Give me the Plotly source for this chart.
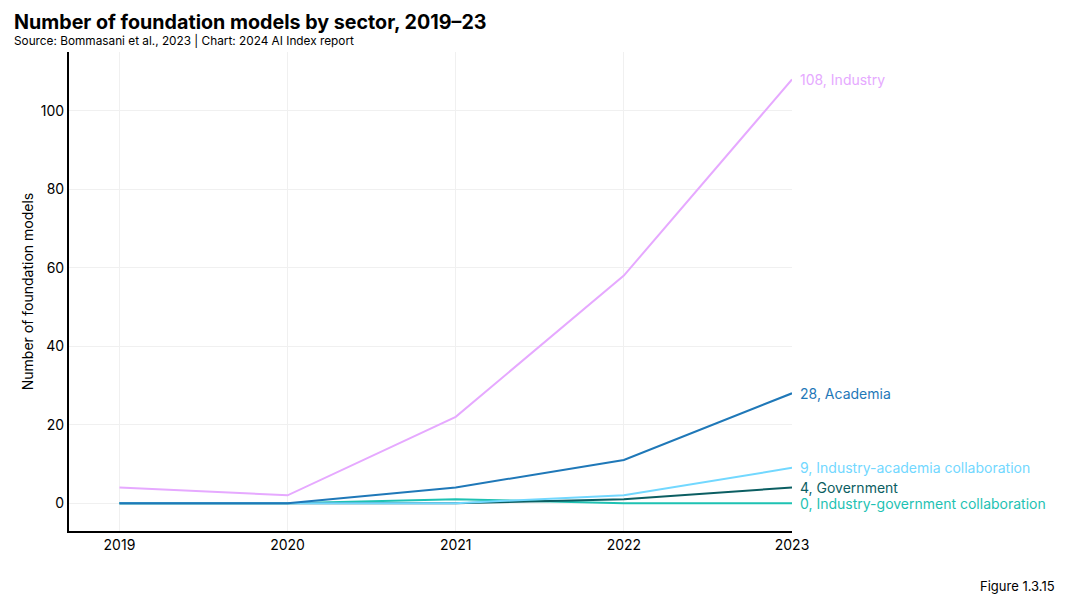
import plotly.graph_objects as go

years = [2019, 2020, 2021, 2022, 2023]
industry = [4, 2, 22, 58, 108]
academia = [0, 0, 4, 11, 28]
ind_acad = [0, 0, 0, 2, 9]
government = [0, 0, 0, 1, 4]
ind_gov = [0, 0, 1, 0, 0]

series = [
    ("Industry-government collaboration", ind_gov, "#1ec2b3"),
    ("Government", government, "#0b5e62"),
    ("Industry-academia collaboration", ind_acad, "#72d8ff"),
    ("Academia", academia, "#1f78b8"),
    ("Industry", industry, "#e6a9ff"),
]

FONT = "Inter"
fig = go.Figure()
for name, vals, col in series:
    fig.add_trace(go.Scatter(x=years, y=vals, mode="lines", name=name,
                             line=dict(color=col, width=2), showlegend=False,
                             cliponaxis=False))
    fig.add_annotation(x=years[-1], y=vals[-1], text=f"{vals[-1]}, {name}",
                       xanchor="left", yanchor="middle", xshift=6, showarrow=False,
                       font=dict(family=FONT, size=14, color=col))

fig.update_layout(
    width=1073, height=601,
    margin=dict(l=69, r=281, t=52, b=70),
    plot_bgcolor="white", paper_bgcolor="white",
    font=dict(family=FONT, size=14, color="black"),
    xaxis=dict(range=[2018.7, 2023], tickvals=years, ticktext=[str(y) for y in years],
               showline=True, linecolor="black", linewidth=2, showgrid=True,
               gridcolor="#f0f0f0", zeroline=False, ticks="", ticklen=0,
               tickfont=dict(size=14)),
    yaxis=dict(range=[-7.1, 115], tickvals=[0, 20, 40, 60, 80, 100],
               showline=True, linecolor="black", linewidth=2, showgrid=True,
               gridcolor="#f0f0f0", zeroline=False, ticks="", ticklen=0,
               tickfont=dict(size=14),
               title=dict(text="Number of foundation models", font=dict(size=14), standoff=4)),
)

fig.add_annotation(xref="paper", yref="paper", x=-69/723, y=1 + (52-22)/479,
                   xanchor="left", yanchor="middle", showarrow=False,
                   text="<b>Number of foundation models by sector, 2019–23</b>",
                   font=dict(family=FONT, size=19.7, color="black"), xshift=12)
fig.add_annotation(xref="paper", yref="paper", x=-69/723, y=1 + (52-41)/479,
                   xanchor="left", yanchor="middle", showarrow=False,
                   text="Source: Bommasani et al., 2023 | Chart: 2024 AI Index report",
                   font=dict(family=FONT, size=11.8, color="black"), xshift=12)
fig.add_annotation(xref="paper", yref="paper", x=1 + 265/723, y=-(586-531)/479,
                   xanchor="right", yanchor="middle", showarrow=False,
                   text="Figure 1.3.15",
                   font=dict(family=FONT, size=13, color="black"))

fig.write_html("out.html")
